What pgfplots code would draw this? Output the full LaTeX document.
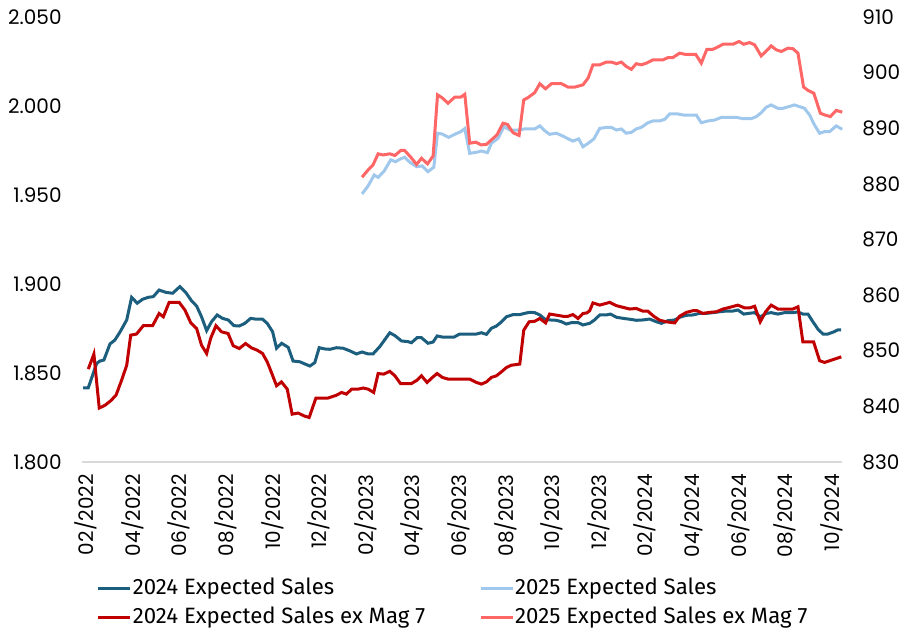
\documentclass[border=0pt]{standalone}
\usepackage{fontspec}
\setmainfont{Poppins}
\newfontfamily\legendfont{Fira Sans}
\usepackage{pgfplots}
\usepackage{pgfplotstable}
\pgfplotsset{compat=1.18}
\definecolor{cDarkBlue}{RGB}{28,94,126}
\definecolor{cLightBlue}{RGB}{160,200,236}
\definecolor{cDarkRed}{RGB}{192,0,0}
\definecolor{cLightRed}{RGB}{255,102,102}
\definecolor{cAxis}{RGB}{217,217,217}

\pgfplotstableread{
x y
-0.12 1841.7
0.10 1841.7
0.46 1855.4
0.60 1856.7
0.77 1857.3
1.03 1866.3
1.24 1868.5
1.46 1873.0
1.75 1879.8
1.96 1892.5
2.20 1889.2
2.43 1891.4
2.67 1892.5
2.89 1892.9
3.14 1896.6
3.43 1895.3
3.72 1894.8
4.03 1898.5
4.29 1895.1
4.53 1890.6
4.75 1887.6
4.96 1881.6
5.18 1873.8
5.39 1878.8
5.63 1882.6
5.86 1880.7
6.10 1879.8
6.35 1876.6
6.58 1876.4
6.82 1877.9
7.07 1880.7
7.32 1880.2
7.58 1880.2
7.78 1877.9
8.01 1873.2
8.18 1863.9
8.40 1866.7
8.68 1864.4
8.89 1856.7
9.18 1856.3
9.39 1855.1
9.61 1853.9
9.82 1855.8
10.01 1864.2
10.25 1863.5
10.47 1863.3
10.75 1864.2
11.04 1863.9
11.33 1862.4
11.61 1860.7
11.85 1861.8
12.11 1860.7
12.32 1860.7
12.61 1864.8
13.04 1872.6
13.26 1871.0
13.54 1868.0
13.83 1867.6
13.97 1867.0
14.21 1869.8
14.40 1869.8
14.68 1866.7
14.90 1867.4
15.07 1870.8
15.33 1870.1
15.79 1870.1
16.04 1871.9
16.76 1871.9
16.97 1872.6
17.19 1871.7
17.40 1875.1
17.62 1876.4
17.83 1878.7
18.05 1881.6
18.33 1882.8
18.62 1882.8
18.83 1883.5
19.05 1884.1
19.26 1883.9
19.48 1882.6
19.69 1880.3
19.91 1879.8
20.19 1879.6
20.41 1878.8
20.62 1877.5
20.84 1878.3
21.12 1878.3
21.33 1877.0
21.62 1877.9
21.83 1879.8
22.05 1882.6
22.34 1882.6
22.51 1883.1
22.77 1881.3
23.05 1880.7
23.34 1880.2
23.62 1879.6
23.91 1879.8
24.19 1880.3
24.48 1878.8
24.70 1877.9
24.98 1879.4
25.27 1879.8
25.48 1881.3
25.77 1882.4
26.05 1882.6
26.34 1883.5
26.63 1883.5
26.91 1883.9
27.20 1884.4
27.48 1884.8
27.77 1884.8
27.98 1885.4
28.23 1883.1
28.45 1883.5
28.70 1883.9
28.94 1881.5
29.20 1883.5
29.41 1883.9
29.70 1883.1
29.98 1883.9
30.34 1883.9
30.56 1884.3
30.77 1883.1
30.99 1883.1
31.20 1878.8
31.42 1874.6
31.63 1871.9
31.84 1871.9
32.06 1872.9
32.27 1874.2
32.41 1874.2
}\tabA

\pgfplotstableread{
x y
11.85 1950.6
12.11 1955.1
12.37 1961.2
12.54 1959.9
12.80 1963.5
13.08 1969.7
13.29 1968.7
13.47 1970.1
13.68 1971.2
13.90 1968.4
14.19 1965.9
14.43 1966.3
14.68 1963.1
14.93 1965.6
15.09 1984.7
15.28 1984.3
15.57 1982.4
15.83 1984.1
16.09 1985.6
16.26 1987.3
16.47 1973.4
16.76 1974.0
16.97 1974.7
17.23 1973.8
17.40 1979.0
17.69 1981.9
17.94 1988.4
18.19 1986.5
18.54 1986.5
18.83 1987.1
19.26 1987.1
19.48 1988.8
19.69 1986.1
19.90 1984.1
20.19 1984.7
20.47 1983.1
20.69 1981.6
20.90 1980.3
21.15 1981.5
21.33 1977.1
21.55 1979.0
21.80 1981.5
22.05 1987.4
22.34 1988.0
22.55 1988.0
22.77 1986.5
22.98 1987.1
23.19 1984.7
23.41 1985.2
23.62 1987.1
23.84 1988.0
24.12 1990.6
24.34 1991.6
24.62 1991.6
24.84 1992.5
25.05 1995.5
25.41 1995.5
25.70 1994.8
26.20 1994.8
26.41 1990.6
26.70 1991.6
26.98 1992.1
27.27 1993.6
27.91 1993.6
28.20 1992.9
28.56 1992.9
28.77 1994.0
28.98 1996.2
29.20 1999.3
29.41 2000.6
29.70 1998.7
29.91 1998.7
30.27 2000.0
30.41 2000.6
30.63 1999.6
30.84 1998.7
31.06 1994.9
31.27 1989.3
31.49 1984.7
31.70 1985.6
31.92 1985.6
32.20 1988.8
32.46 1986.9
}\tabB

\pgfplotstableread{
x y
0.10 846.7
0.34 849.4
0.57 839.7
0.82 840.2
1.06 841.0
1.29 842.0
1.53 844.7
1.75 847.4
1.92 852.8
2.17 853.0
2.46 854.5
2.86 854.5
3.14 856.7
3.32 856.1
3.57 858.7
4.00 858.7
4.25 857.3
4.50 855.0
4.75 854.0
4.96 851.0
5.18 849.5
5.35 852.2
5.58 854.5
5.82 853.4
6.10 853.1
6.32 850.9
6.58 850.4
6.85 851.3
7.11 850.5
7.35 850.1
7.58 849.5
7.78 848.0
7.97 846.0
8.18 843.7
8.39 844.4
8.64 843.1
8.85 838.6
9.11 838.8
9.35 838.3
9.58 838.0
9.87 841.5
10.11 841.5
10.39 841.5
10.75 842.0
10.97 842.5
11.18 842.2
11.40 843.1
11.68 843.1
11.90 843.3
12.11 843.1
12.35 842.5
12.54 845.9
12.78 845.8
13.04 846.3
13.26 845.5
13.50 844.1
13.97 844.1
14.21 844.7
14.40 845.5
14.64 844.3
14.87 845.2
15.07 845.9
15.30 845.2
15.54 844.9
16.47 844.9
16.76 844.3
16.97 844.0
17.19 844.4
17.40 845.2
17.62 845.5
17.83 846.2
18.05 847.0
18.26 847.4
18.62 847.6
18.79 853.7
19.02 855.2
19.26 855.3
19.48 855.8
19.73 855.0
19.90 856.6
20.19 856.4
20.47 856.2
20.69 856.2
20.90 856.5
21.12 855.8
21.33 856.7
21.50 856.8
21.62 857.2
21.76 858.6
22.05 858.2
22.48 858.7
22.77 858.1
23.05 857.8
23.34 857.5
23.62 857.6
23.91 857.1
24.12 857.1
24.37 856.2
24.62 855.5
24.91 855.2
25.27 855.0
25.48 856.2
25.77 856.9
26.05 857.2
26.23 857.2
26.48 856.7
26.77 856.9
27.06 857.0
27.34 857.5
27.63 857.8
27.98 858.2
28.27 857.7
28.48 857.7
28.70 858.0
28.94 855.2
29.17 857.0
29.41 858.2
29.70 857.5
29.98 857.5
30.34 857.5
30.56 857.9
30.77 851.6
31.23 851.6
31.49 848.2
31.70 847.9
31.92 848.2
32.20 848.6
32.42 848.9
}\tabC

\pgfplotstableread{
x y
11.85 881.2
12.11 882.5
12.32 883.4
12.54 885.4
12.75 885.2
13.04 885.4
13.26 885.1
13.51 886.0
13.68 886.0
13.94 884.8
14.19 883.5
14.40 884.6
14.66 883.6
14.90 885.0
15.09 896.0
15.28 895.5
15.54 894.5
15.83 895.6
16.09 895.6
16.26 896.1
16.47 887.3
16.73 887.5
16.97 887.0
17.19 887.1
17.40 887.9
17.64 888.8
17.90 890.9
18.09 890.7
18.33 889.2
18.59 888.7
18.79 895.1
18.97 895.5
19.26 896.4
19.48 898.0
19.72 897.1
19.98 898.0
20.41 898.0
20.69 897.4
20.98 897.4
21.33 897.8
21.55 899.0
21.76 901.4
22.05 901.4
22.34 901.9
22.55 901.9
22.77 901.6
22.98 901.9
23.19 901.1
23.41 900.6
23.62 901.6
23.84 901.4
24.05 901.7
24.34 902.3
24.77 902.3
24.98 902.7
25.19 902.7
25.48 903.5
25.70 903.3
26.17 903.3
26.41 901.7
26.65 904.2
26.91 904.2
27.12 904.6
27.34 905.1
27.77 905.1
28.03 905.6
28.23 905.1
28.48 905.4
28.70 905.0
28.98 903.0
29.20 903.9
29.41 904.8
29.63 904.1
29.84 903.8
30.13 904.4
30.34 904.3
30.56 903.5
30.80 897.4
30.99 896.8
31.24 896.3
31.52 892.7
31.70 892.4
31.95 892.1
32.20 893.2
32.46 892.9
}\tabD

\begin{document}
\begin{tikzpicture}
\pgfplotsset{
  common/.style={
    scale only axis, width=380pt, height=222.5pt,
    xmin=-0.17, xmax=32.45,
    major tick length=0pt,
    tick label style={font=\fontsize{10}{12}\selectfont},
    /pgf/number format/assume math mode=true,
    clip=false,
  },
}
\begin{axis}[common, name=ax1,
  ymin=1800, ymax=2050,
  axis x line*=bottom, axis y line*=left,
  x axis line style={draw=cAxis, line width=0.6pt, -},
  y axis line style={draw=none},
  xtick={0,2,...,32},
  xticklabels={02/2022,04/2022,06/2022,08/2022,10/2022,12/2022,02/2023,04/2023,06/2023,08/2023,10/2023,12/2023,02/2024,04/2024,06/2024,08/2024,10/2024},
  xticklabel style={rotate=90, anchor=east, inner xsep=6pt, inner ysep=0pt},
  ytick={1800,1850,1900,1950,2000,2050},
  yticklabels={1.800,1.850,1.900,1.950,2.000,2.050},
  yticklabel style={anchor=east, inner xsep=10pt, inner ysep=0pt},
]
\addplot[cDarkBlue, line width=1.5pt] table[x=x,y=y] {\tabA};
\addplot[cLightBlue, line width=1.5pt] table[x=x,y=y] {\tabB};
\end{axis}
\begin{axis}[common,
  ymin=830, ymax=910,
  axis x line=none, xtick=\empty,
  axis y line*=right,
  y axis line style={draw=none},
  ytick={830,840,...,910},
  yticklabel style={anchor=west, inner xsep=10pt, inner ysep=0pt},
  legend columns=2,
  legend cell align=left,
  legend image code/.code={\draw[#1] (0pt,0pt) -- (16pt,0pt);},
  legend style={draw=none, fill=none, at={(0.019,-0.258)}, anchor=north west,
    inner sep=0pt, row sep=3.5pt,
    font=\legendfont\fontsize{11.1}{13}\selectfont,
    nodes={inner xsep=0.5pt, inner ysep=0pt, text height=8.5pt, text depth=2.5pt},
    /tikz/every even column/.append style={column sep=26.5pt}},
]
\addlegendimage{cDarkBlue, line width=1.5pt}
\addlegendentry{2024 Expected Sales}
\addlegendimage{cLightBlue, line width=1.5pt}
\addlegendentry{2025 Expected Sales}
\addplot[cDarkRed, line width=1.5pt] table[x=x,y=y] {\tabC};
\addlegendentry{2024 Expected Sales ex Mag 7}
\addplot[cLightRed, line width=1.5pt] table[x=x,y=y] {\tabD};
\addlegendentry{2025 Expected Sales ex Mag 7}
\end{axis}
\pgfresetboundingbox
\path[use as bounding box] ([shift={(-41pt,-83.5pt)}]ax1.south west) rectangle ([shift={(28.5pt,8.5pt)}]ax1.north east);
\end{tikzpicture}
\end{document}
